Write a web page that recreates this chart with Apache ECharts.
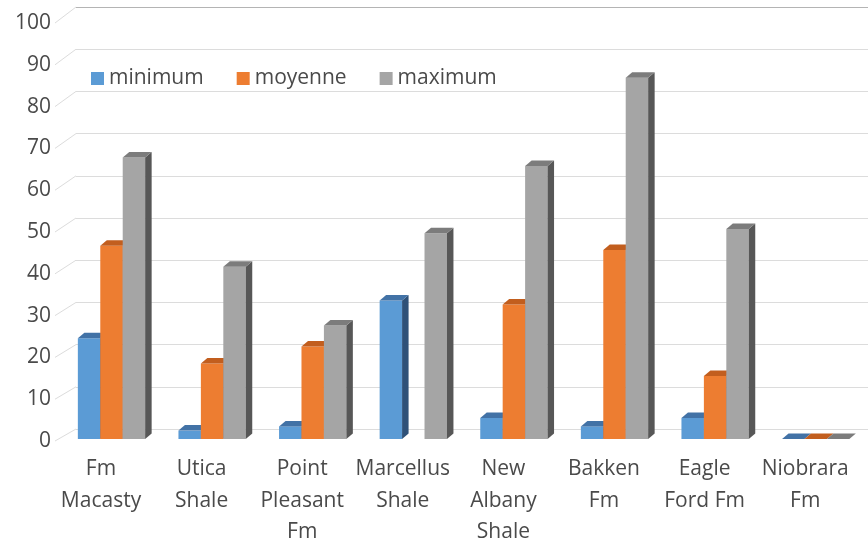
<!DOCTYPE html>
<html>
<head>
<meta charset="utf-8">
<script src="https://cdn.jsdelivr.net/npm/echarts@6/dist/echarts.min.js"></script>
<style>
  html, body { margin: 0; padding: 0; background: #ffffff; }
  #chart { width: 868px; height: 548px; }
</style>
</head>
<body>
<div id="chart"></div>
<script>
// Shale formations and their minimum / average / maximum values
const categories = [
  'Fm\nMacasty', 'Utica\nShale', 'Point\nPleasant\nFm', 'Marcellus\nShale',
  'New\nAlbany\nShale', 'Bakken\nFm', 'Eagle\nFord Fm', 'Niobrara\nFm'
];
const minimum = [24, 2, 3, 33, 5, 3, 5, 0];
const moyenne = [46, 18, 22, null, 32, 45, 15, 0];
const maximum = [67, 41, 27, 49, 65, 86, 50, 0];
const seriesNames = ['minimum', 'moyenne', 'maximum'];
const yTicks = [0, 10, 20, 30, 40, 50, 60, 70, 80, 90, 100];

// Face colours for each series: front, top, side
const palette = [
  { front: '#5B9BD5', top: '#4272a6', side: '#2f5178' },
  { front: '#ED7D31', top: '#c25e1e', side: '#9a4714' },
  { front: '#A5A5A5', top: '#7c7c7c', side: '#575757' }
];
const TEXT = '#4a4a4a';
const FONT = '"Open Sans", "Noto Sans", sans-serif';
const BAR_RATIO = 0.223;           // front face width as a share of a category band
const DEPTH = { x: 6.5, y: -5.5 }; // oblique offset of the bar's back edges

const chart = echarts.init(document.getElementById('chart'), null, { renderer: 'canvas' });

function barRenderer(slot) {
  const c = palette[slot];
  return function (params, api) {
    const v = api.value(1);
    if (v == null || isNaN(v)) return null;
    const i = api.value(0);
    const base = api.coord([i, 0]);
    const top = api.coord([i, v]);
    const band = api.size([1, 0])[0];
    const w = band * BAR_RATIO;
    const x0 = base[0] + (slot - 1.5) * w;
    const x1 = x0 + w;
    const yb = base[1], yt = top[1];
    const children = [];
    if (yb - yt > 0.01) {
      children.push({
        type: 'rect',
        shape: { x: x0, y: yt, width: w, height: yb - yt },
        style: { fill: c.front }
      });
    }
    children.push({
      type: 'polygon',
      shape: { points: [[x1, yt], [x1 + DEPTH.x, yt + DEPTH.y], [x1 + DEPTH.x, yb + DEPTH.y], [x1, yb]] },
      style: { fill: c.side }
    });
    children.push({
      type: 'polygon',
      shape: { points: [[x0, yt], [x1, yt], [x1 + DEPTH.x, yt + DEPTH.y], [x0 + DEPTH.x, yt + DEPTH.y]] },
      style: { fill: c.top }
    });
    return { type: 'group', children: children };
  };
}

// Floor-to-wall connectors for each y tick (front plane -> back wall)
function connectorRenderer(params, api) {
  const v = api.value(1);
  const front = api.coord([0, v]);
  const back = chart.convertToPixel({ gridIndex: 0 }, [0, v]);
  return {
    type: 'line',
    shape: { x1: front[0], y1: front[1], x2: back[0], y2: back[1] },
    style: { stroke: '#dcdcdc', lineWidth: 1 }
  };
}

const seriesValues = [minimum, moyenne, maximum];
const gridLineColors = yTicks.map(v => (v === 100 ? '#b4b4b4' : '#dcdcdc'));

const option = {
  backgroundColor: '#ffffff',
  animation: false,
  textStyle: { fontFamily: FONT },
  legend: {
    data: seriesNames,
    left: 91,
    top: 68,
    padding: 0,
    icon: 'rect',
    itemWidth: 13,
    itemHeight: 13,
    itemGap: 33,
    textStyle: { fontSize: 21, color: TEXT, fontFamily: FONT }
  },
  grid: [
    { left: 76, right: 0, top: 7, bottom: 119 },          // back wall
    { left: 55, width: 1, top: 23, bottom: 107 },         // front plane (value labels)
    { left: 50.7, right: 12.5, top: 23, bottom: 107 },    // floor front edge (category labels)
    { left: 61.2, right: 2, top: 19, bottom: 109 }        // bars
  ],
  xAxis: [
    { gridIndex: 0, type: 'value', min: 0, max: 1, show: false },
    { gridIndex: 1, type: 'value', min: 0, max: 1, show: false },
    {
      gridIndex: 2, type: 'category', data: categories,
      axisLine: { show: false }, axisTick: { show: false },
      axisLabel: { color: TEXT, fontSize: 21, lineHeight: 31.5, margin: 18, fontFamily: FONT, interval: 0 }
    },
    { gridIndex: 3, type: 'category', data: categories, show: false }
  ],
  yAxis: [
    {
      gridIndex: 0, type: 'value', min: 0, max: 100, interval: 10,
      axisLine: { show: false }, axisTick: { show: false }, axisLabel: { show: false },
      splitLine: { show: true, lineStyle: { color: gridLineColors, width: 1 } }
    },
    {
      gridIndex: 1, type: 'value', min: 0, max: 100, interval: 10,
      axisLine: { show: false }, axisTick: { show: false }, splitLine: { show: false },
      axisLabel: { color: TEXT, fontSize: 21, margin: 4, fontFamily: FONT }
    },
    { gridIndex: 2, type: 'value', min: 0, max: 100, show: false },
    { gridIndex: 3, type: 'value', min: 0, max: 100, show: false }
  ],
  series: [
    {
      type: 'custom',
      name: 'connectors',
      xAxisIndex: 1, yAxisIndex: 1,
      silent: true,
      data: yTicks.map(v => [0, v]),
      renderItem: connectorRenderer,
      z: 1
    }
  ].concat(seriesValues.map((vals, s) => ({
    type: 'custom',
    name: seriesNames[s],
    xAxisIndex: 3, yAxisIndex: 3,
    itemStyle: { color: palette[s].front },
    data: vals.map((v, i) => [i, v == null ? '-' : v]),
    renderItem: barRenderer(s),
    z: 2
  })))
};

chart.setOption(option);
</script>
</body>
</html>
